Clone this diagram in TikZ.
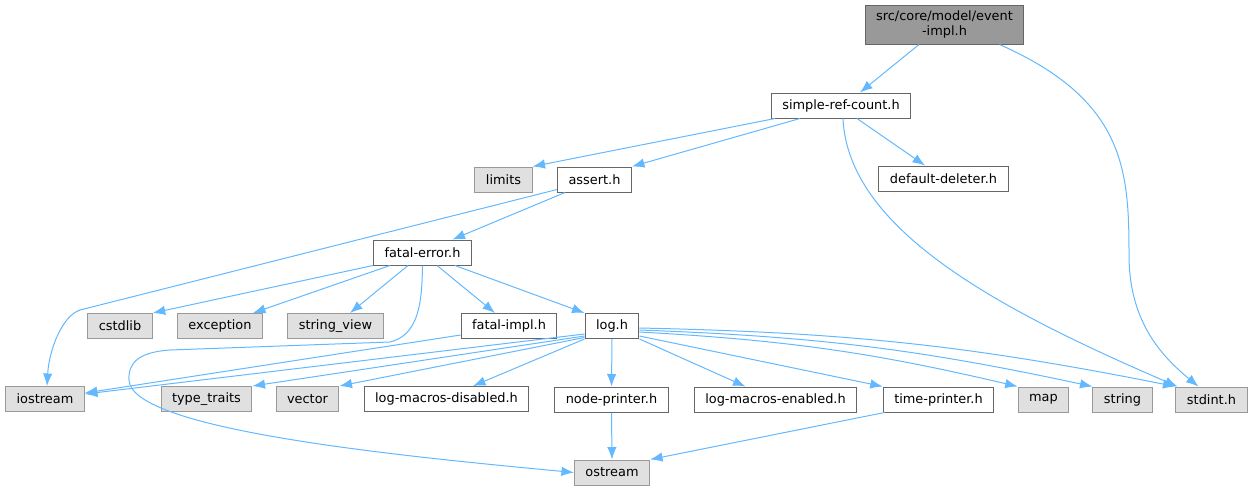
\documentclass[tikz,border=0pt]{standalone}
\usepackage{fontspec}
\setmainfont{DejaVu Sans}
\usepackage{tikz}
\usetikzlibrary{positioning, arrows.meta}
\definecolor{edgeblue}{HTML}{63B8FF}
\definecolor{rootfill}{HTML}{999999}
\definecolor{extfill}{HTML}{E0E0E0}
\tikzstyle{arrow} = [draw=edgeblue, line width=1pt, -{Latex[length=12.5pt,width=9.5pt]}]
\tikzstyle{block} = [draw=black!60, fill=white, rectangle, line width=1pt,
    minimum height=25pt, inner xsep=11pt, font=\fontsize{12.9pt}{15pt}\selectfont]
\tikzstyle{extblock} = [block, draw=black!40, fill=extfill]
\tikzstyle{rootblock} = [block, fill=rootfill, align=center,
    minimum height=39pt, inner ysep=2pt]

\begin{document}
\begin{tikzpicture}[x=1pt, y=-1pt]
     \useasboundingbox (0,0) rectangle (1253,491);
     \node [rootblock] (eventimpl) at (944.5,24.5) {src/core/model/event\\-impl.h};
     \node [block] (simplerefcount) at (841,105.5) {simple-ref-count.h};

     \node [extblock] (limits) at (503.5,179.5) {limits};
     \node [block] (assert) at (594.5,179.5) {assert.h};
     \node [block] (defaultdeleter) at (943.5,178.5) {default-deleter.h};
     \node [block] (fatalerror) at (422.5,252.5) {fatal-error.h};

     \node [extblock] (cstdlib) at (120,326) {cstdlib};
     \node [extblock] (exception) at (220,326) {exception};
     \node [extblock] (stringview) at (335.5,326) {string\_view};
     \node [block] (fatalimpl) at (509,326) {fatal-impl.h};
     \node [block] (log) at (612,326) {log.h};

     \node [extblock] (iostream) at (45,399) {iostream};
     \node [extblock] (typetraits) at (206.5,399) {type\_traits};
     \node [extblock] (vector) at (307.5,399) {vector};
     \node [block] (logmacrosdisabled) at (446.5,399) {log-macros-disabled.h};
     \node [block] (nodeprinter) at (611.5,399.5) {node-printer.h};
     \node [block] (logmacrosenabled) at (775.5,399.5) {log-macros-enabled.h};
     \node [block] (timeprinter) at (938.5,399.5) {time-printer.h};
     \node [extblock] (map) at (1043.5,399.5) {map};
     \node [extblock] (string) at (1122.5,399.5) {string};
     \node [extblock] (stdint) at (1211.5,399.5) {stdint.h};
     \node [extblock] (ostream) at (612,472.5) {ostream};

     % top part
     \draw [arrow] ([xshift=-25.5pt]eventimpl.south) -- ([xshift=19pt]simplerefcount.north);
     \draw [arrow] ([xshift=55pt]eventimpl.south) .. controls (1125,100) and (1129,170) .. (1129,255)
          .. controls (1129,320) and (1160,355) .. ([xshift=-13pt]stdint.north);
     \draw [arrow] ([xshift=-66pt]simplerefcount.south) -- (limits.north east);
     \draw [arrow] ([xshift=-41pt]simplerefcount.south) -- (assert.north east);
     \draw [arrow] ([xshift=16pt]simplerefcount.south) -- ([xshift=-18.5pt]defaultdeleter.north);
     \draw [arrow] ([xshift=2pt]simplerefcount.south) .. controls (848,230) and (1000,310) .. ([xshift=2pt]stdint.north west);
     \draw [arrow] ([xshift=-29.5pt]assert.south) -- ([xshift=30pt]fatalerror.north);
     \draw [arrow] ([yshift=-10pt]assert.west) -- (80,310) .. controls (62,316) and (49,350) .. ([xshift=2pt]iostream.north);

     % fatal-error.h
     \draw [arrow] (fatalerror.south west) -- (cstdlib.north east);
     \draw [arrow] ([xshift=-32.5pt]fatalerror.south) -- ([xshift=33pt]exception.north);
     \draw [arrow] ([xshift=-14.5pt]fatalerror.south) -- ([xshift=14.5pt]stringview.north);
     \draw [arrow] ([xshift=14.5pt]fatalerror.south) -- ([xshift=-14pt]fatalimpl.north);
     \draw [arrow] ([xshift=32.5pt]fatalerror.south) -- (log.north west);
     \draw [arrow] (fatalerror.south) .. controls (422,305) and (418,335) .. (390,342) -- (170,350)
          .. controls (140,352) and (128,362) .. (129,380) .. controls (131,430) and (400,456) .. (ostream.west);
     \draw [arrow] ([yshift=-9pt]fatalimpl.west) -- ([yshift=6pt]iostream.east);

     % log.h
     \draw [arrow] ([yshift=-8pt]log.west) -- ([yshift=5pt]iostream.east);
     \draw [arrow] ([yshift=-10pt]log.west) -- (typetraits.north east);
     \draw [arrow] ([yshift=-11.5pt]log.west) -- (vector.north east);
     \draw [arrow] (log.south west) -- ([xshift=26.5pt]logmacrosdisabled.north);
     \draw [arrow] (log.south) -- (nodeprinter.north);
     \draw [arrow] (log.south east) -- ([xshift=-30pt]logmacrosenabled.north);
     \draw [arrow] ([yshift=-10pt]log.east) -- (timeprinter.north west);
     \draw [arrow] ([yshift=-6pt]log.east) to [bend left=5] (map.north west);
     \draw [arrow] ([yshift=-4pt]log.east) to [bend left=5] (string.north west);
     \draw [arrow] ([yshift=-2pt]log.east) to [bend left=5] (stdint.north west);

     % printers
     \draw [arrow] (nodeprinter.south) -- (ostream.north);
     \draw [arrow] ([xshift=-54pt]timeprinter.south) -- (ostream.north east);
\end{tikzpicture}
\end{document}
